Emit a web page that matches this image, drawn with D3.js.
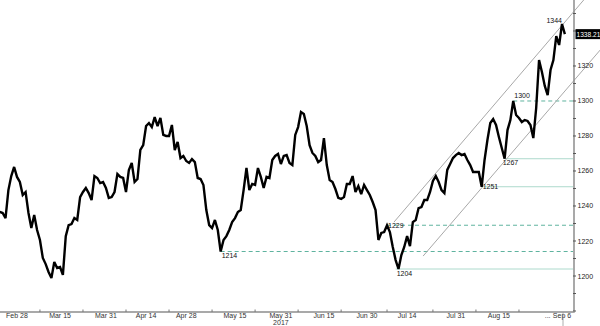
<!DOCTYPE html>
<html>
<head>
<meta charset="utf-8">
<script src="https://cdn.jsdelivr.net/npm/d3@7"></script>
<style>
  html, body { margin: 0; padding: 0; background: #fff; }
  svg { display: block; }
  text { font-family: "Liberation Sans", Arial, sans-serif; }
</style>
</head>
<body>
<div id="chart"></div>
<script>
// ---------------- DATA ----------------
// daily closing-style series, one value per calendar day starting 2017-02-22
const seriesStart = "2017-02-22";
const closes = [
  1236.6,1236.0,1233.1,1249.1,1257.1,1262.3,1256.6,1253.7,1246.3,1248.0,
  1236.0,1227.4,1234.8,1226.3,1220.6,1210.3,1206.8,1202.3,1198.8,1208.0,
  1204.6,1205.1,1200.6,1222.8,1229.1,1229.7,1233.1,1232.0,1245.1,1248.0,
  1250.3,1247.4,1243.4,1257.1,1256.0,1253.1,1253.7,1250.3,1244.6,1245.1,
  1248.0,1258.3,1256.6,1256.0,1248.0,1260.6,1264.6,1253.7,1255.4,1272.0,
  1274.8,1285.7,1287.4,1285.1,1290.8,1285.7,1290.3,1280.6,1280.0,1280.0,
  1286.3,1272.0,1276.6,1267.4,1268.6,1265.7,1264.6,1266.8,1265.1,1256.0,
  1255.4,1252.0,1237.7,1229.1,1227.4,1232.0,1226.3,1214.0,1220.6,1222.8,
  1226.3,1230.8,1233.1,1236.6,1237.7,1249.1,1261.7,1249.1,1252.6,1252.0,
  1261.7,1256.6,1250.3,1256.6,1256.0,1266.3,1268.6,1269.7,1264.0,1268.6,
  1269.1,1264.6,1263.4,1280.6,1285.1,1293.7,1292.6,1285.7,1274.8,1270.3,
  1268.6,1265.1,1266.3,1278.8,1263.4,1254.8,1253.7,1249.7,1244.6,1244.0,
  1245.1,1252.6,1252.6,1257.1,1248.0,1251.4,1246.8,1252.0,1249.1,1246.3,
  1242.3,1237.7,1220.6,1224.6,1225.1,1229.0,1225.1,1216.6,1209.1,1204.0,
  1212.0,1216.6,1222.8,1217.1,1230.8,1232.0,1238.8,1239.4,1243.4,1243.4,
  1248.0,1254.3,1257.1,1253.7,1249.1,1247.4,1260.6,1264.0,1267.4,1269.1,
  1270.3,1269.1,1269.7,1266.3,1263.4,1259.4,1259.4,1259.4,1251.0,1266.3,
  1277.7,1287.4,1289.7,1286.3,1279.4,1273.1,1267.0,1283.4,1289.1,1300.0,
  1292.0,1290.3,1288.0,1289.1,1288.6,1286.3,1278.8,1296.0,1323.4,1316.6,
  1308.6,1303.4,1317.7,1323.4,1337.1,1332.0,1344.0,1338.21
];
const lastPriceLabel = "1338.21";

// x-axis labels
const xLabelDates = ["2017-02-28","2017-03-15","2017-03-31","2017-04-14","2017-04-28","2017-05-15",
                     "2017-05-31","2017-06-15","2017-06-30","2017-07-14","2017-07-31","2017-08-15","2017-09-06"];
const xLabelTexts = ["Feb 28","Mar 15","Mar 31","Apr 14","Apr 28","May 15",
                     "May 31","Jun 15","Jun 30","Jul 14","Jul 31","Aug 15","Sep 6"];
const xTickDates = ["2017-03-08","2017-03-23","2017-04-07","2017-04-22","2017-05-07","2017-05-22",
                    "2017-06-06","2017-06-21","2017-07-07","2017-07-23","2017-08-07","2017-08-22"];
const yearLabel = "2017";
const yearLabelDate = "2017-05-31";
const ellipsisDate = "2017-09-01";

// y-axis
const yMinorTicks = d3.range(1180, 1351, 10);
const yLabelTicks = [1200, 1220, 1240, 1260, 1280, 1300, 1320];

// horizontal support/resistance levels
const levelValues = [1214, 1229, 1204, 1251, 1267, 1300];
const levelStarts = ["2017-05-10","2017-07-07","2017-07-10","2017-08-09","2017-08-17","2017-08-20"];
const levelDashed = [true, true, false, false, false, true];
const levelLabelPos = ["below","on","below","on","below","above"];

// trend channel lines [date, value]
const channelUpper = [["2017-07-09T10:00", 1230.8], ["2017-09-19T07:00", 1368.7]];
const channelLower = [["2017-07-19T14:00", 1211.4], ["2017-09-19T07:00", 1329.1]];

// peak annotation
const peakLabel = "1344";
const peakDate = "2017-09-06";
const peakValue = 1344;

// ---------------- CHART ----------------
const W = 600, H = 326;
const axisX = 574, axisY = 312;
const parseDay = d3.timeParse("%Y-%m-%d");
const parseDT = d3.timeParse("%Y-%m-%dT%H:%M");

const x = d3.scaleTime()
  .domain([parseDay("2017-02-28"), parseDay("2017-09-06")])
  .range([17, 562]);
const y = d3.scaleLinear()
  .domain([1179.43, 1357.71])
  .range([axisY, 0]);

const start = parseDay(seriesStart);
const data = closes.map((v, i) => ({ date: d3.timeDay.offset(start, i), value: v }));

const svg = d3.select("#chart").append("svg")
  .attr("width", W).attr("height", H);

// level lines
const levelColorSolid = "#addacd";
const levelColorDash = "#5fb39f";
levelValues.forEach((v, i) => {
  const x0 = x(parseDay(levelStarts[i]));
  svg.append("line")
    .attr("x1", x0).attr("x2", axisX - 1)
    .attr("y1", y(v)).attr("y2", y(v))
    .attr("stroke", levelDashed[i] ? levelColorDash : levelColorSolid)
    .attr("stroke-width", 1)
    .attr("stroke-dasharray", levelDashed[i] ? "4,3" : null);
});

// channel lines
const chLine = d3.line().x(d => x(parseDT(d[0]))).y(d => y(d[1]));
[channelUpper, channelLower].forEach(c => {
  svg.append("path").attr("d", chLine(c))
    .attr("fill", "none").attr("stroke", "#a8a8a8").attr("stroke-width", 1);
});

// price line
svg.append("path")
  .datum(data)
  .attr("d", d3.line().x(d => x(d.date)).y(d => y(d.value)))
  .attr("fill", "none")
  .attr("stroke", "#000")
  .attr("stroke-width", 2.4)
  .attr("stroke-linejoin", "miter")
  .attr("stroke-miterlimit", 3);

// level labels
const fs = 7;
levelValues.forEach((v, i) => {
  const x0 = x(parseDay(levelStarts[i]));
  const pos = levelLabelPos[i];
  const dy = pos === "below" ? 6.5 : pos === "above" ? -3 : 2.5;
  const dx = pos === "below" && i === 4 ? -2 : 1;
  svg.append("text")
    .attr("x", x0 + dx).attr("y", y(v) + dy)
    .attr("font-size", fs).attr("fill", "#111")
    .text(String(v));
});

// peak label
svg.append("text")
  .attr("x", x(parseDay(peakDate))).attr("y", y(peakValue) - 1)
  .attr("text-anchor", "end")
  .attr("font-size", fs).attr("fill", "#111")
  .text(peakLabel);

// right axis
svg.append("line")
  .attr("x1", axisX).attr("x2", axisX).attr("y1", 0).attr("y2", axisY)
  .attr("stroke", "#8c8c8c").attr("stroke-width", 1.5);
svg.selectAll(".ymin").data(yMinorTicks).enter().append("line")
  .attr("x1", axisX - 1).attr("x2", axisX + 2)
  .attr("y1", d => y(d)).attr("y2", d => y(d))
  .attr("stroke", "#555").attr("stroke-width", 1);
svg.selectAll(".ylab").data(yLabelTicks).enter().append("text")
  .attr("x", axisX + 3.5).attr("y", d => y(d) + 2.5)
  .attr("font-size", fs).attr("fill", "#222")
  .text(d => d);

// last price box
const lastVal = closes[closes.length - 1];
svg.append("rect")
  .attr("x", axisX + 1.5).attr("y", y(lastVal) - 5)
  .attr("width", W - axisX - 1.5).attr("height", 10)
  .attr("fill", "#000");
svg.append("text")
  .attr("x", axisX + 2.5).attr("y", y(lastVal) + 2.5)
  .attr("font-size", 6.6).attr("fill", "#fff")
  .text(lastPriceLabel);

// bottom axis
svg.append("line")
  .attr("x1", 0).attr("x2", axisX + 0.75).attr("y1", axisY).attr("y2", axisY)
  .attr("stroke", "#8c8c8c").attr("stroke-width", 1.5);
svg.selectAll(".xt").data(xTickDates).enter().append("line")
  .attr("x1", d => x(parseDay(d))).attr("x2", d => x(parseDay(d)))
  .attr("y1", axisY - 2.5).attr("y2", axisY)
  .attr("stroke", "#777").attr("stroke-width", 1);
svg.append("line")
  .attr("x1", x(parseDay("2017-09-06")) + 1).attr("x2", x(parseDay("2017-09-06")) + 1)
  .attr("y1", axisY).attr("y2", H)
  .attr("stroke", "#999").attr("stroke-width", 0.8);
svg.selectAll(".xl").data(xLabelDates).enter().append("text")
  .attr("x", d => x(parseDay(d)))
  .attr("y", axisY + 6)
  .attr("text-anchor", "middle")
  .attr("font-size", fs).attr("fill", "#333")
  .text((d, i) => xLabelTexts[i]);
svg.append("text")
  .attr("x", x(parseDay(ellipsisDate))).attr("y", axisY + 6)
  .attr("text-anchor", "middle")
  .attr("font-size", fs).attr("fill", "#333")
  .text("...");
svg.append("text")
  .attr("x", x(parseDay(yearLabelDate))).attr("y", axisY + 12.5)
  .attr("text-anchor", "middle")
  .attr("font-size", fs).attr("fill", "#333")
  .text(yearLabel);
</script>
</body>
</html>
